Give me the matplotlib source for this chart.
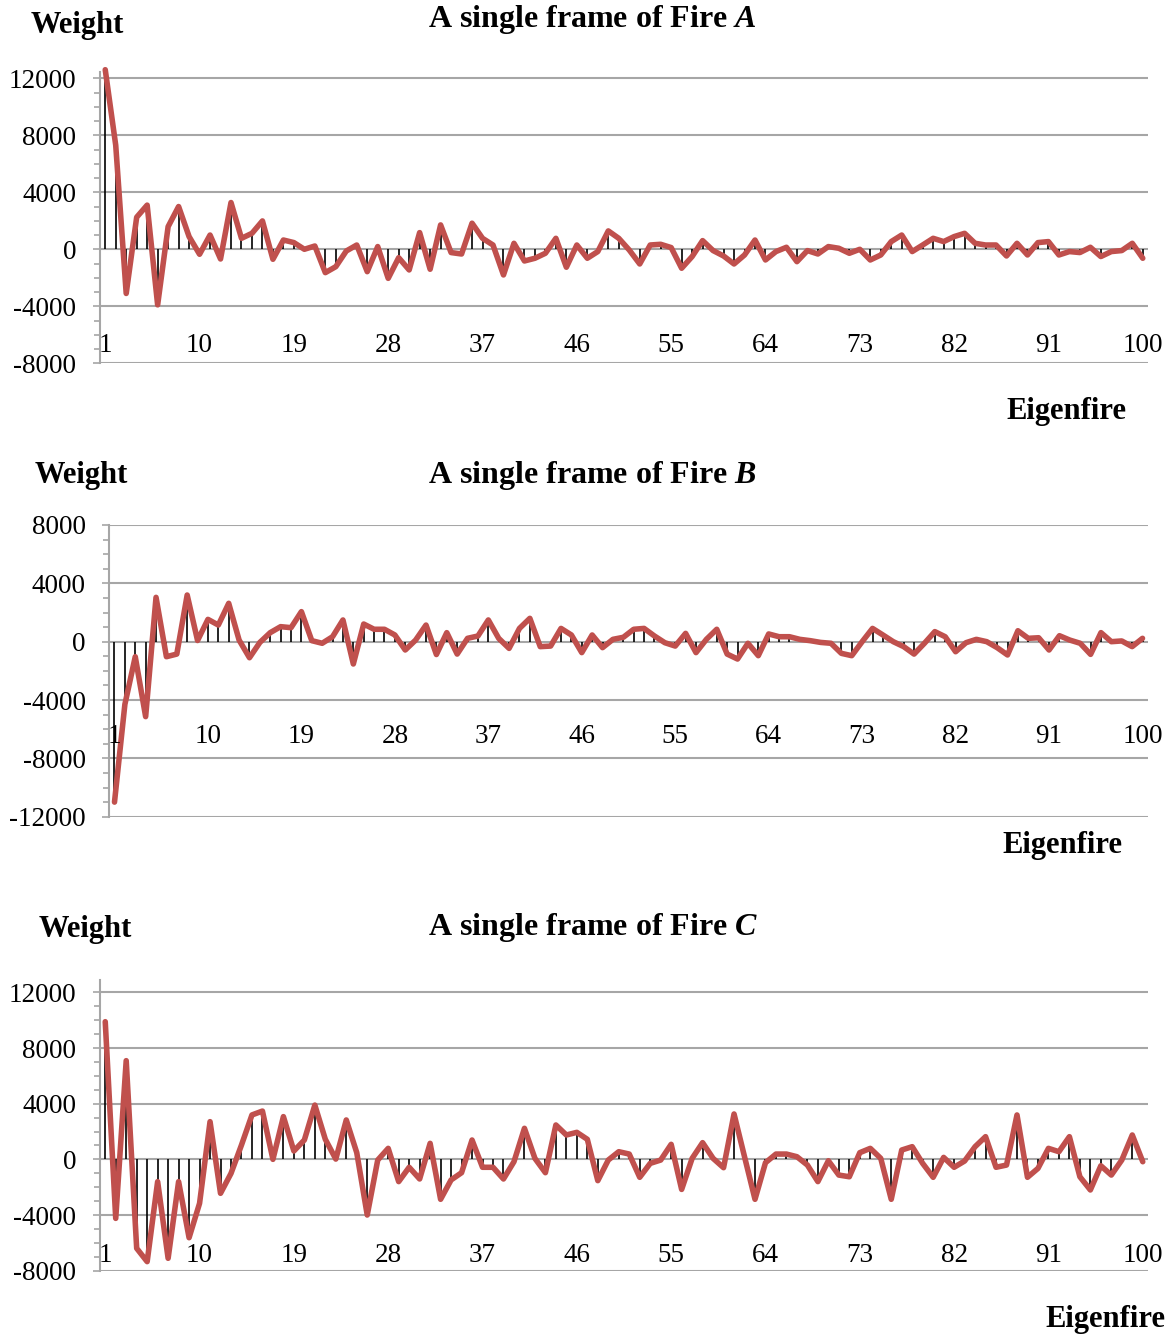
import numpy as np
import matplotlib
matplotlib.use('Agg')
from matplotlib import pyplot as plt
from matplotlib.ticker import MultipleLocator

plt.rcParams['font.family'] = ['Liberation Serif', 'DejaVu Serif']
plt.rcParams['mathtext.fontset'] = 'custom'
plt.rcParams['mathtext.it'] = 'Liberation Serif:italic:bold'
plt.rcParams['mathtext.rm'] = 'Liberation Serif:bold'
plt.rcParams['axes.unicode_minus'] = False

eigenfire = np.arange(1, 101)
xtick_labels = [1, 10, 19, 28, 37, 46, 55, 64, 73, 82, 91, 100]

fire_a = [12600, 7300, -3100, 2250, 3100, -3900, 1590, 3000, 890, -350,
          1000, -680, 3280, 770, 1120, 1990, -700, 650, 470, 0,
          230, -1640, -1220, -120, 300, -1570, 190, -2040, -590, -1450,
          1170, -1400, 1710, -230, -330, 1830, 770, 300, -1800, 420,
          -820, -630, -280, 770, -1260, 300, -630, -160, 1290, 770,
          -50, -1030, 300, 350, 120, -1330, -510, 610, -90, -470,
          -1030, -400, 650, -750, -160, 140, -870, -90, -330, 190,
          70, -280, 0, -750, -400, 540, 1000, -160, 300, 770,
          540, 890, 1120, 420, 300, 300, -470, 420, -400, 470,
          540, -400, -160, -230, 140, -510, -160, -90, 420, -630]

fire_b = [-11000, -4300, -1030, -5140, 3040, -1030, -850, 3200, 80, 1530,
          1140, 2630, 110, -1100, -50, 620, 1030, 960, 2060, 70,
          -110, 340, 1490, -1530, 1210, 850, 850, 460, -570, 110,
          1140, -880, 620, -850, 230, 390, 1490, 230, -460, 910,
          1600, -340, -300, 910, 460, -750, 460, -410, 160, 300,
          850, 910, 390, -70, -300, 570, -750, 160, 850, -850,
          -1190, -110, -960, 530, 340, 340, 160, 70, -50, -110,
          -800, -960, 0, 910, 460, 0, -340, -850, -110, 690,
          340, -690, -70, 160, 0, -410, -910, 750, 230, 270,
          -570, 410, 110, -110, -870, 620, 0, 50, -340, 230]

fire_c = [9890, -4240, 7090, -6390, -7350, -1600, -7110, -1600, -5630, -3160,
          2710, -2440, -1010, 1030, 3190, 3470, 0, 3070, 600, 1390,
          3900, 1440, 20, 2830, 480, -4000, -50, 790, -1600, -570,
          -1410, 1150, -2870, -1480, -960, 1390, -570, -570, -1410, -170,
          2230, 70, -960, 2470, 1750, 1940, 1440, -1530, -50, 550,
          380, -1290, -290, -50, 1080, -2160, 70, 1200, 70, -600,
          3260, 190, -2870, -240, 380, 380, 190, -410, -1600, -100,
          -1130, -1250, 480, 790, 70, -2870, 670, 910, -290, -1290,
          140, -570, -120, 910, 1630, -570, -410, 3190, -1290, -650,
          790, 550, 1630, -1250, -2200, -460, -1130, -50, 1750, -170]

W, H = 1170, 1335
fig = plt.figure(figsize=(W / 100, H / 100), dpi=100)

red = '#C0504D'
grid_c = '#A6A6A6'

panels = [
    # data, letter, (left, right, top, bottom px), ylim, yticks, label offset px,
    # weight pos, title pos, eigenfire pos
    (fire_a, 'A', (100, 1148, 71.7, 363.3), (-8000, 12460), np.arange(-8000, 12001, 4000),
     96, (77, 25), (592, 20), (1066, 411)),
    (fire_b, 'B', (109.3, 1147.7, 525, 816.7), (-12000, 8000), np.arange(-12000, 8001, 4000),
     95, (81, 475), (592, 475), (1062, 845)),
    (fire_c, 'C', (100, 1148, 979.8, 1270.7), (-8000, 12900), np.arange(-8000, 12001, 4000),
     96, (85, 930), (593, 928), (1105, 1320)),
]

for data, letter, (l, r, t, b), ylim, yticks, loff, wpos, tpos, epos in panels:
    ax = fig.add_axes([l / W, 1 - b / H, (r - l) / W, (b - t) / H])
    ax.set_xlim(0.5, 100.5)
    ax.set_ylim(*ylim)
    ax.set_yticks(yticks)
    ax.yaxis.set_minor_locator(MultipleLocator(1000))
    ax.grid(axis='y', color=grid_c, lw=1.5)
    ax.set_axisbelow(True)
    for s in ['top', 'right', 'bottom']:
        ax.spines[s].set_visible(False)
    ax.spines['left'].set_color(grid_c)
    ax.spines['left'].set_linewidth(1.5)
    ax.set_xticks([])
    ax.tick_params(axis='y', which='major', length=5, width=1.2, color=grid_c,
                   labelsize=19.5, pad=12)
    ax.tick_params(axis='y', which='minor', length=4, width=1.2, color=grid_c)

    ax.vlines(eigenfire, 0, data, color='black', lw=1.2, zorder=2)
    ax.plot(eigenfire, data, color=red, lw=4.0, zorder=3, clip_on=False,
            solid_joinstyle='round', solid_capstyle='round')

    for lbl in xtick_labels:
        ax.annotate(str(lbl), (lbl, 0), xytext=(0, -loff * 0.72), textcoords='offset points',
                    ha='center', va='center', fontsize=19.5, zorder=4)

    fig.text(wpos[0] / W, 1 - wpos[1] / H, 'Weight', ha='center', va='center',
             fontsize=22, fontweight='bold')
    fig.text(tpos[0] / W, 1 - tpos[1] / H, 'A single frame of Fire $\\mathit{' + letter + '}$',
             ha='center', va='center', fontsize=23, fontweight='bold')
    fig.text(epos[0] / W, 1 - epos[1] / H, 'Eigenfire', ha='center', va='center',
             fontsize=22, fontweight='bold')

fig.savefig('out.png', dpi=100)
